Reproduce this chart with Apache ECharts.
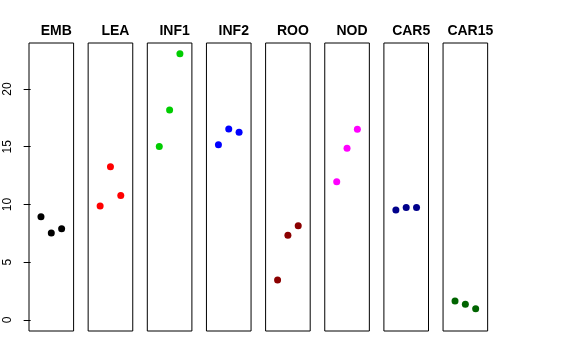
<!DOCTYPE html>
<html><head><meta charset="utf-8">
<script src="https://cdn.jsdelivr.net/npm/echarts@6/dist/echarts.min.js"></script>
<style>html,body{margin:0;padding:0;background:#fff}#c{width:576px;height:360px}</style>
</head><body><div id="c"></div>
<script>
var categories = ["EMB","LEA","INF1","INF2","ROO","NOD","CAR5","CAR15"];
var colors = ["#000000","#FF0000","#00CD00","#0000FF","#8B0000","#FF00FF","#00008B","#006400"];
var EMB = [8.94, 7.53, 7.91];
var LEA = [9.87, 13.27, 10.79];
var INF1 = [15.01, 18.18, 23.06];
var INF2 = [15.18, 16.54, 16.25];
var ROO = [3.46, 7.33, 8.17];
var NOD = [11.98, 14.86, 16.51];
var CAR5 = [9.52, 9.73, 9.73];
var CAR15 = [1.65, 1.36, 0.98];
var seriesValues = [EMB, LEA, INF1, INF2, ROO, NOD, CAR5, CAR15];
var yTicks = [0, 5, 10, 15, 20];

(function(){
var chart = echarts.init(document.getElementById('c'), null, {renderer:'canvas'});
var grids=[], xAxes=[], yAxes=[], series=[], titles=[];
var left0 = 29, step = 59.15, gw = 44.6, gtop = 43, gh = 288;
categories.forEach(function(cat, i){
  var l = left0 + i*step;
  grids.push({left:l, top:gtop, width:gw, height:gh, show:true, borderColor:'#000', borderWidth:1, backgroundColor:'transparent'});
  xAxes.push({gridIndex:i, type:'value', min:-0.16, max:4.16, show:false});
  yAxes.push({gridIndex:i, type:'value', min:-0.95, max:23.98, show:i===0,
    splitLine:{show:false},
    axisLine:{show:false},
    axisTick:{show:true, length:7, lineStyle:{color:'#000'}, customValues: yTicks},
    axisLabel:{show:true, rotate:90, margin:15, color:'#000', fontSize:12, fontFamily:'Liberation Sans, Arial, sans-serif', customValues: yTicks}
  });
  series.push({type:'scatter', xAxisIndex:i, yAxisIndex:i, symbolSize:7,
    itemStyle:{color:colors[i], opacity:1},
    data: seriesValues[i].map(function(v,j){return [j+1, v];}),
    silent:true, animation:false});
  titles.push({text:cat, left:l + gw/2, top:19, textAlign:'center',
    textStyle:{fontSize:14, fontWeight:'bold', color:'#000', fontFamily:'Liberation Sans, Arial, sans-serif'}});
});
chart.setOption({animation:false, title:titles, grid:grids, xAxis:xAxes, yAxis:yAxes, series:series});
})();
</script></body></html>
